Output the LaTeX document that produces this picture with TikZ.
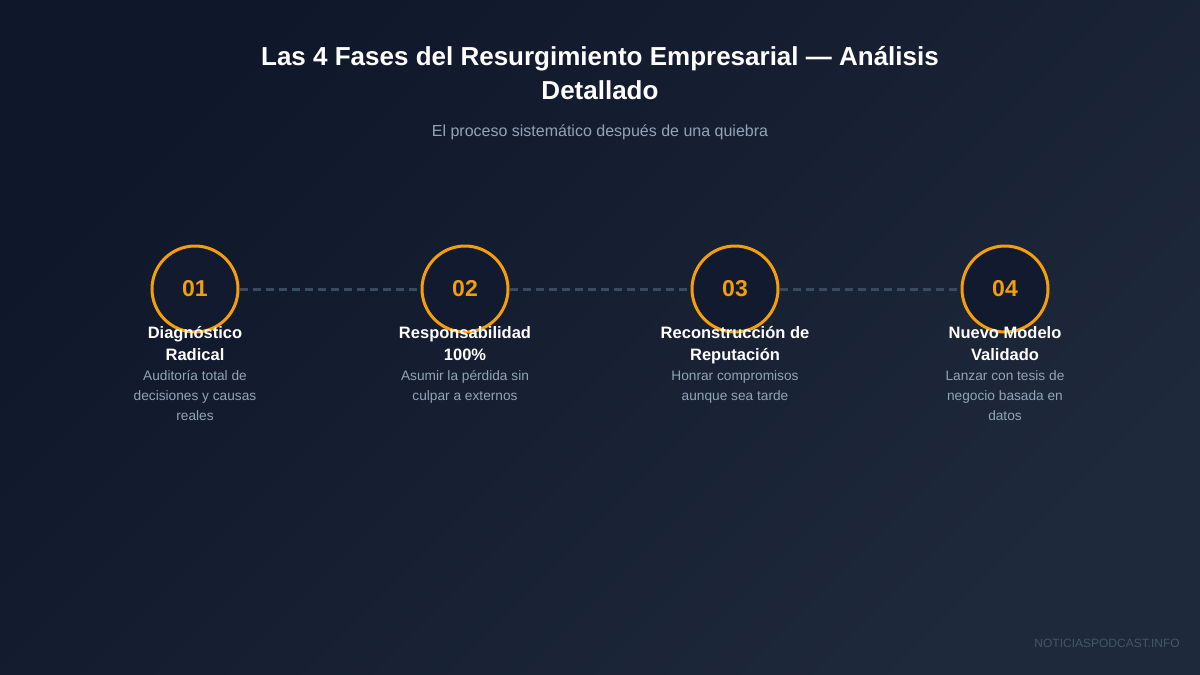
\documentclass[tikz,border=0pt]{standalone}
\usepackage{fontspec}
\setmainfont{Liberation Sans}
\usetikzlibrary{positioning}
\definecolor{bgtop}{HTML}{0F172A}
\definecolor{bgbot}{HTML}{1E293B}
\definecolor{morange}{HTML}{F59E0B}
\definecolor{mfill}{HTML}{111A2E}
\definecolor{mgray}{HTML}{94A3B8}
\definecolor{mdash}{HTML}{3A4A60}
\definecolor{mmark}{HTML}{475569}

\begin{document}
\begin{tikzpicture}[x=1pt, y=-1pt,
    phase/.style={circle, draw=morange, line width=3pt, fill=mfill, minimum size=86pt,
      inner sep=0pt, text=morange, font=\fontsize{23}{26}\selectfont\bfseries},
    head/.style={text=white, align=center, inner sep=0pt, execute at begin node=\strut,
      font=\fontsize{16.5}{22}\selectfont\bfseries},
    desc/.style={text=mgray, align=center, inner sep=0pt, execute at begin node=\strut,
      font=\fontsize{13.7}{20}\selectfont}]
      \useasboundingbox (0, 0) rectangle (1200, 675);
      \shade [top color=bgtop, bottom color=bgbot, shading angle=45] (0, 0) rectangle (1200, 675);

      % title
      \node [text=white, align=center, font=\fontsize{26}{34}\selectfont\bfseries] (title) at (600, 73)
        {Las 4 Fases del Resurgimiento Empresarial — Análisis\\Detallado};
      \node [text=mgray, font=\fontsize{16}{18}\selectfont] (sub) at (600, 132)
        {El proceso sistemático después de una quiebra};

      % phases
      \node [phase] (01) at (195, 289) {01};
      \node [phase] (02) at (465, 289) {02};
      \node [phase] (03) at (735, 289) {03};
      \node [phase] (04) at (1005, 289) {04};

      \draw [mdash, line width=3pt, dash pattern=on 8pt off 5pt] (01) -- (02);
      \draw [mdash, line width=3pt, dash pattern=on 8pt off 5pt] (02) -- (03);
      \draw [mdash, line width=3pt, dash pattern=on 8pt off 5pt] (03) -- (04);

      \node [head] (t01) at (195, 347) {Diagnóstico\\Radical};
      \node [head] (t02) at (465, 347) {Responsabilidad\\100\%};
      \node [head] (t03) at (735, 347) {Reconstrucción de\\Reputación};
      \node [head] (t04) at (1005, 347) {Nuevo Modelo\\Validado};

      \node [desc, below=3pt of t01] (d01) {Auditoría total de\\decisiones y causas\\reales};
      \node [desc, below=3pt of t02] (d02) {Asumir la pérdida sin\\culpar a externos};
      \node [desc, below=3pt of t03] (d03) {Honrar compromisos\\aunque sea tarde};
      \node [desc, below=3pt of t04] (d04) {Lanzar con tesis de\\negocio basada en\\datos};

      \node [text=mmark, anchor=east, inner sep=0pt, font=\fontsize{12}{13}\selectfont] (mark) at (1180, 643)
        {NOTICIASPODCAST.INFO};
\end{tikzpicture}
\end{document}
